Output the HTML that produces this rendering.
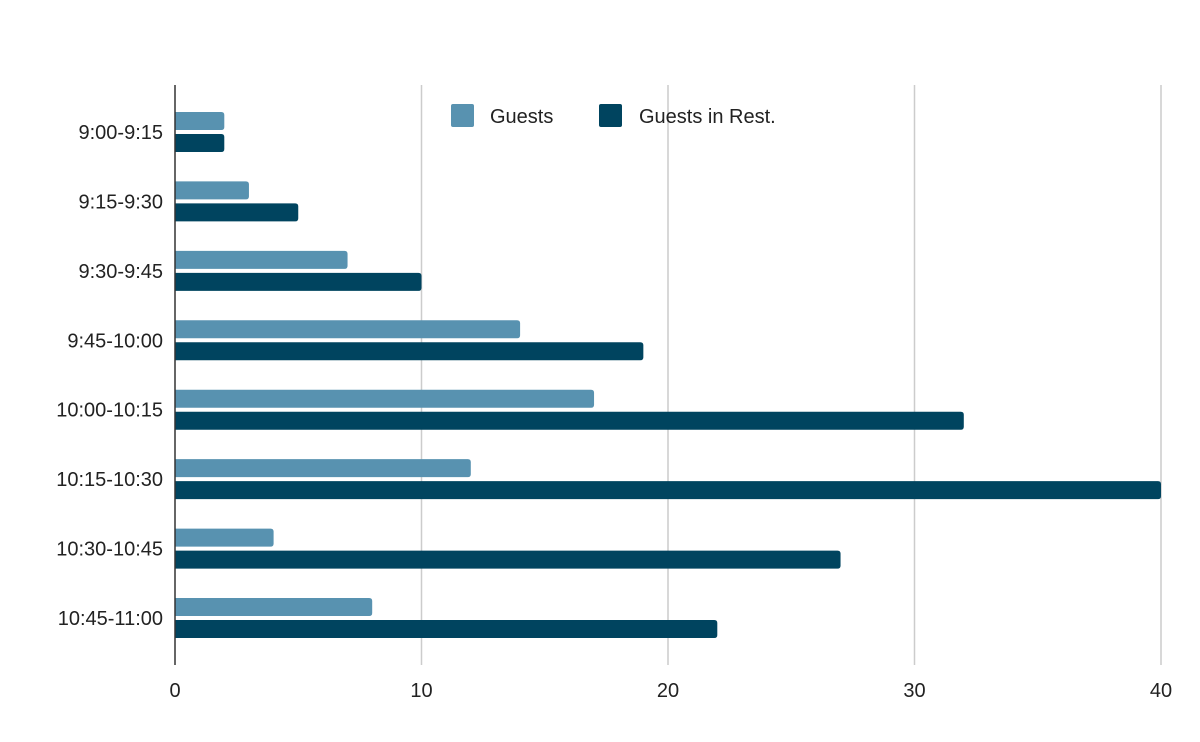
<!DOCTYPE html>
<html><head><meta charset="utf-8"><style>
body{margin:0;background:#fff;font-family:"Liberation Sans",Arial,sans-serif}
</style></head><body>
<svg width="1200" height="742" style="display:block">
<g id="grid"></g><g id="bars"></g><g id="labels"></g>
<line x1="175" y1="85" x2="175" y2="665" stroke="#333" stroke-width="1.5"/>
<g>
<rect x="451" y="104" width="23" height="23" rx="2" fill="#5892b0"/>
<text x="490" y="123" font-size="20" fill="#222">Guests</text>
<rect x="599" y="104" width="23" height="23" rx="2" fill="#00445f"/>
<text x="639" y="123" font-size="20" fill="#222">Guests in Rest.</text>
</g>
</svg>
<script>
const categories=["9:00-9:15","9:15-9:30","9:30-9:45","9:45-10:00","10:00-10:15","10:15-10:30","10:30-10:45","10:45-11:00"];
const guests=[2,3,7,14,17,12,4,8];
const guestsInRest=[2,5,10,19,32,40,27,22];
const xTicks=[0,10,20,30,40];
const NS="http://www.w3.org/2000/svg";
const x=v=>175+v*(1161-175)/40;
const rowTop=i=>112+i*69.43;
function mk(t,a,p){const e=document.createElementNS(NS,t);for(const k in a)e.setAttribute(k,a[k]);p.appendChild(e);return e;}
const grid=document.getElementById('grid'),bars=document.getElementById('bars'),labels=document.getElementById('labels');
xTicks.forEach(t=>{
 if(t>0){const l=mk('line',{x1:x(t),x2:x(t),y1:85,y2:665,stroke:'#ccc','stroke-width':1.5},grid);
 
 }
 const tx=mk('text',{x:x(t),y:697,'text-anchor':'middle','font-size':20,fill:'#222'},labels);
 tx.textContent=t;
 
 
});
function bar(v,y,c){
 const w=x(v)-175,h=18,r=3;
 const p=mk('path',{d:`M175 ${y}H${175+w-r}Q${175+w} ${y} ${175+w} ${y+r}V${y+h-r}Q${175+w} ${y+h} ${175+w-r} ${y+h}H175Z`,fill:c},bars);
 return p;
}
categories.forEach((c,i)=>{
 const y=rowTop(i);
 const b1=bar(guests[i],y,'#5892b0');
 
 
 const b2=bar(guestsInRest[i],y+22,'#00445f');
 
 
 const t=mk('text',{x:163,y:y+27,'text-anchor':'end','font-size':20,fill:'#222'},labels);
 t.textContent=c;
 
 
});
</script>
</body></html>
